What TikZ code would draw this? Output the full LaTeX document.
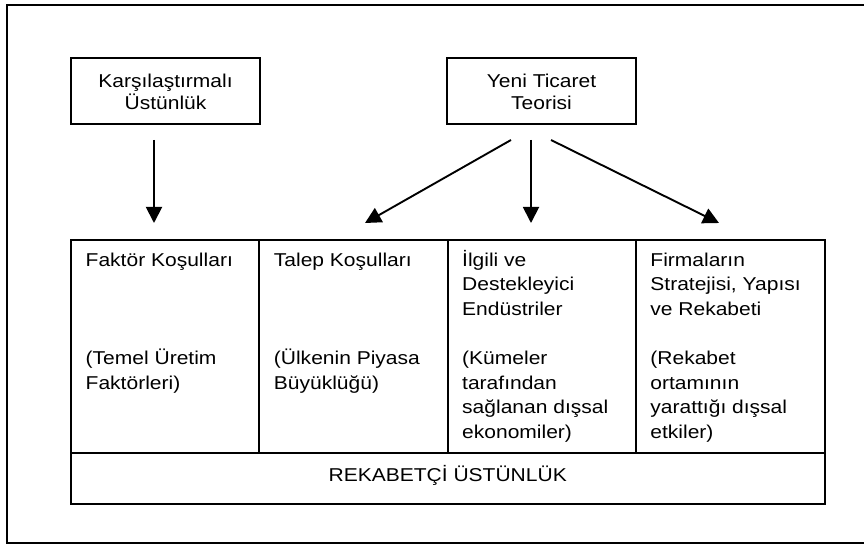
\documentclass[tikz,border=0pt]{standalone}
\usepackage{fontspec}
\setmainfont[FakeStretch=1.13]{Liberation Sans}
\usetikzlibrary{arrows.meta}
\begin{document}
\begin{tikzpicture}[x=1pt,y=1pt,
  frame/.style={draw, line width=1.9pt},
  topbox/.style={draw, line width=1.9pt, minimum width=189pt, minimum height=66pt, inner sep=0pt},
  cell/.style={draw, line width=1.9pt, minimum width=188.5pt, minimum height=213pt, inner sep=0pt},
  basebar/.style={draw, line width=1.9pt, minimum width=754pt, minimum height=51pt, inner sep=0pt},
  txt/.style={inner sep=0pt, font=\fontsize{18.6}{24.6}\selectfont},
  toptxt/.style={inner sep=0pt, font=\fontsize{18.6}{22.7}\selectfont},
  flow/.style={line width=1.9pt, -{Triangle[length=16pt,width=16pt]}},
]
\useasboundingbox (0,0) rectangle (864,546);

% outer frame (open on the right side of the page)
\draw[frame] (872,541) -- (7.3,541) -- (7.3,2.7) -- (872,2.7);

% theory boxes
\node[topbox] (karsi) at (165.5,455) {};
\node[topbox] (yeni)  at (541.5,455) {};
\node[toptxt, anchor=base] (karsi-t) at (165.5,458.7)
  {\parbox[t]{180pt}{\centering Karşılaştırmalı\\Üstünlük}};
\node[toptxt, anchor=base] (yeni-t) at (541.5,458.7)
  {\parbox[t]{180pt}{\centering Yeni Ticaret\\Teorisi}};

% diamond cells
\node[cell] (c1) at (164.9,199.5) {};
\node[cell] (c2) at (353.4,199.5) {};
\node[cell] (c3) at (541.9,199.5) {};
\node[cell] (c4) at (730.4,199.5) {};
\node[basebar] (rek) at (447.7,67.5) {};

\node[txt, anchor=base west] (c1-t) at ([shift={(15.8,-27)}]c1.north west)
  {\parbox[t]{172pt}{\raggedright Faktör Koşulları\\\mbox{}\\\mbox{}\\\mbox{}\\(Temel Üretim\\Faktörleri)}};
\node[txt, anchor=base west] (c2-t) at ([shift={(15.5,-27)}]c2.north west)
  {\parbox[t]{172pt}{\raggedright Talep Koşulları\\\mbox{}\\\mbox{}\\\mbox{}\\(Ülkenin Piyasa\\Büyüklüğü)}};
\node[txt, anchor=base west] (c3-t) at ([shift={(15.3,-27)}]c3.north west)
  {\parbox[t]{172pt}{\raggedright İlgili ve\\Destekleyici\\Endüstriler\\\mbox{}\\(Kümeler\\tarafından\\sağlanan dışsal\\ekonomiler)}};
\node[txt, anchor=base west] (c4-t) at ([shift={(15,-27)}]c4.north west)
  {\parbox[t]{172pt}{\raggedright Firmaların\\Stratejisi, Yapısı\\ve Rekabeti\\\mbox{}\\(Rekabet\\ortamının\\yarattığı dışsal\\etkiler)}};
\node[txt, anchor=base] (rek-t) at (447.7,64) {REKABETÇİ ÜSTÜNLÜK};

% arrow end points
\coordinate (k-out) at (154,406);
\coordinate (c1-in) at (154,323);
\coordinate (y-out1) at (511,406);
\coordinate (c2-in) at (365,323);
\coordinate (y-out2) at (531,406);
\coordinate (c3-in) at (531,323);
\coordinate (y-out3) at (551,406);
\coordinate (c4-in) at (719,323);

\draw[flow] (k-out) -- (c1-in);
\draw[flow] (y-out1) -- (c2-in);
\draw[flow] (y-out2) -- (c3-in);
\draw[flow] (y-out3) -- (c4-in);
\end{tikzpicture}
\end{document}
